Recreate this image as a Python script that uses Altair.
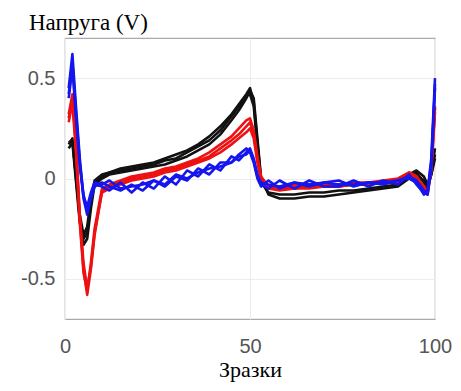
import altair as alt
import pandas as pd

X = [1, 2, 3, 4, 5, 6, 7, 8, 10, 12, 15, 18, 21, 24, 27, 30, 33, 36, 39, 42, 45, 47, 49, 50,
     51, 52, 53, 55, 58, 62, 66, 70, 74, 78, 82, 86, 90, 93, 95, 97, 98, 99, 100]

blue1 = [0.45, 0.62, 0.35, 0.10, -0.10, -0.18, -0.10, -0.04,
         -0.02, -0.04, -0.06, -0.03, -0.06, -0.01, -0.04, 0.01, -0.01, 0.05, 0.02, 0.08, 0.08, 0.12, 0.15, 0.13,
         0.08, 0.00, -0.04, -0.01, -0.05, -0.02, -0.04, -0.02, -0.01, -0.04, -0.02, -0.03, -0.01, 0.00, -0.02, -0.08, -0.06, 0.10, 0.50]
blue2 = [0.42, 0.58, 0.32, 0.08, -0.08, -0.16, -0.09, -0.03,
         -0.04, -0.06, -0.02, -0.07, -0.02, -0.05, 0.01, -0.03, 0.04, 0.01, 0.07, 0.04, 0.11, 0.09, 0.13, 0.15,
         0.10, 0.02, -0.03, -0.05, -0.01, -0.05, -0.01, -0.04, -0.04, -0.01, -0.04, -0.01, -0.03, 0.02, -0.03, -0.07, -0.08, 0.05, 0.47]
blue3 = [0.40, 0.55, 0.30, 0.06, -0.09, -0.14, -0.07, -0.02,
         -0.03, -0.01, -0.05, -0.04, -0.03, -0.01, -0.03, 0.02, 0.00, 0.03, 0.05, 0.06, 0.08, 0.11, 0.12, 0.14,
         0.09, 0.01, -0.02, -0.03, -0.04, -0.02, -0.03, -0.02, -0.03, -0.03, -0.02, -0.02, -0.01, 0.01, -0.01, -0.06, -0.07, 0.08, 0.45]

red1 = [0.30, 0.40, 0.15, -0.20, -0.45, -0.58, -0.45, -0.28,
        -0.06, -0.04, -0.02, 0.00, 0.01, 0.02, 0.04, 0.05, 0.07, 0.09, 0.11, 0.15, 0.19, 0.22, 0.26, 0.28,
        0.22, 0.10, 0.00, -0.05, -0.05, -0.04, -0.04, -0.04, -0.03, -0.03, -0.02, -0.02, -0.01, 0.02, 0.00, -0.05, -0.06, 0.05, 0.35]
red2 = [0.28, 0.38, 0.12, -0.22, -0.47, -0.56, -0.42, -0.25,
        -0.05, -0.03, -0.01, 0.01, 0.02, 0.03, 0.05, 0.06, 0.08, 0.10, 0.13, 0.17, 0.21, 0.25, 0.29, 0.30,
        0.24, 0.11, 0.01, -0.04, -0.04, -0.03, -0.03, -0.03, -0.03, -0.02, -0.02, -0.01, 0.00, 0.03, 0.01, -0.04, -0.07, 0.04, 0.33]
red3 = [0.32, 0.42, 0.16, -0.18, -0.42, -0.55, -0.44, -0.27,
        -0.07, -0.05, -0.03, -0.01, 0.00, 0.01, 0.03, 0.04, 0.06, 0.08, 0.10, 0.13, 0.17, 0.20, 0.23, 0.25,
        0.20, 0.08, -0.01, -0.05, -0.06, -0.05, -0.05, -0.04, -0.04, -0.03, -0.03, -0.02, -0.02, 0.03, 0.01, -0.06, -0.08, 0.06, 0.36]

black1 = [0.17, 0.20, 0.00, -0.20, -0.33, -0.30, -0.15, -0.03,
          0.00, 0.02, 0.03, 0.04, 0.05, 0.06, 0.07, 0.09, 0.11, 0.14, 0.17, 0.22, 0.29, 0.34, 0.40, 0.44,
          0.40, 0.20, 0.00, -0.08, -0.10, -0.10, -0.09, -0.09, -0.08, -0.07, -0.06, -0.05, -0.04, 0.00, 0.03, -0.02, -0.04, 0.03, 0.15]
black2 = [0.15, 0.18, -0.02, -0.22, -0.30, -0.27, -0.12, -0.02,
          0.01, 0.03, 0.04, 0.05, 0.06, 0.07, 0.09, 0.10, 0.13, 0.16, 0.19, 0.24, 0.31, 0.36, 0.41, 0.42,
          0.36, 0.16, -0.02, -0.07, -0.08, -0.08, -0.07, -0.07, -0.06, -0.06, -0.05, -0.04, -0.03, 0.01, 0.02, -0.01, -0.05, 0.02, 0.12]
black3 = [0.18, 0.19, 0.01, -0.18, -0.28, -0.24, -0.10, -0.01,
          0.02, 0.03, 0.05, 0.06, 0.07, 0.08, 0.10, 0.12, 0.14, 0.17, 0.21, 0.26, 0.32, 0.37, 0.42, 0.45,
          0.38, 0.18, -0.01, -0.04, -0.05, -0.05, -0.04, -0.04, -0.04, -0.03, -0.03, -0.02, -0.02, 0.02, 0.04, 0.01, -0.03, 0.02, 0.10]

y_title = ["Напруга (V)"]

groups = [
    ("black", "#111111", [black1, black2, black3]),
    ("red", "#ee1111", [red1, red2, red3]),
    ("blue", "#1515ee", [blue1, blue2, blue3]),
]

SERIF = "Liberation Serif"
SANS = "Liberation Sans"

xscale = alt.Scale(domain=[0, 100], nice=False)
yscale = alt.Scale(domain=[-0.7, 0.7], nice=False)

xaxis = alt.Axis(values=[0, 50, 100], title="Зразки", ticks=False, domain=False,
                 labelFont=SANS, labelFontSize=20, labelColor="#555555",
                 labelPadding=17, labelFlush=False, gridColor="#ececec",
                 titleFont=SERIF, titleFontSize=22, titleFontWeight="normal",
                 titleColor="#000000", titlePadding=3)
yaxis = alt.Axis(values=[-0.5, 0, 0.5], title=None, ticks=False, domain=False,
                 labelFont=SANS, labelFontSize=20, labelColor="#555555",
                 labelPadding=10, labelFlush=False, gridColor="#ececec",
                 labelExpr="datum.value == 0 ? '0' : (datum.value < 0 ? '-' + format(-datum.value, '.1f') : format(datum.value, '.1f'))")

layers = []
for name, col, lines in groups:
    rows = []
    for i, ys in enumerate(lines):
        for xv, yv in zip(X, ys):
            rows.append({"x": xv, "y": yv, "line": f"{name}{i}"})
    df = pd.DataFrame(rows)
    layers.append(
        alt.Chart(df).mark_line(color=col, strokeWidth=2.6, strokeJoin="round").encode(
            x=alt.X("x:Q", scale=xscale, axis=xaxis),
            y=alt.Y("y:Q", scale=yscale, axis=yaxis),
            detail="line:N",
        )
    )

title_layer = alt.Chart(pd.DataFrame({"t": y_title})).mark_text(
    align="left", baseline="alphabetic", font=SERIF, fontSize=23, color="#000000"
).encode(text="t:N", x=alt.value(-36), y=alt.value(-8))
layers.append(title_layer)

chart = alt.layer(*layers).properties(
    width=370,
    height=281,
    autosize=alt.AutoSizeParams(type="none"),
    padding={"left": 57, "top": 30, "right": 18, "bottom": 70},
).configure_view(
    stroke="#aaaaaa", strokeWidth=1.2
)

chart.save("out.html", embed_options={"renderer": "svg", "actions": False})
